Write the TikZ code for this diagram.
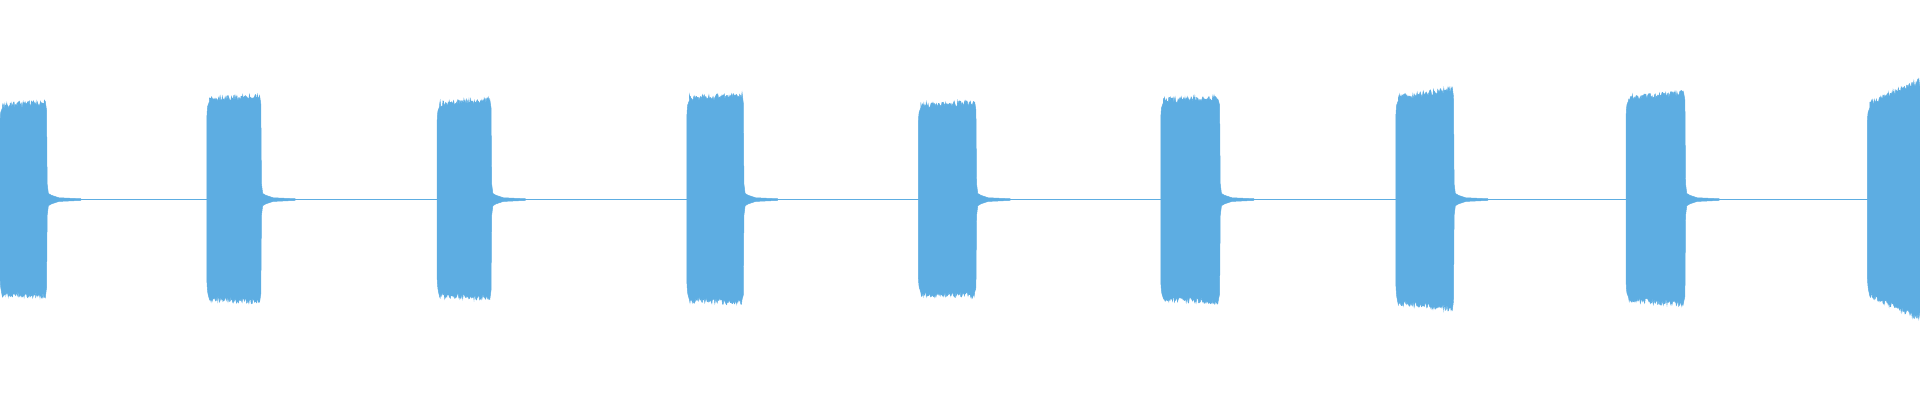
\documentclass[tikz,border=0pt]{standalone}
\definecolor{wave}{RGB}{93,173,226}
\begin{document}
\begin{tikzpicture}[x=1pt,y=-1pt,wv/.style={fill=wave,draw=wave,line width=0.4pt}]
\useasboundingbox (0,0) rectangle (1568,326.7);
\pgfmathsetseed{7}
\draw[wave,line width=0.9pt] (0,163) -- (1568,163);
\foreach \a/\b/\t/\u/\tt/\uu in {0/38/86/240/84/241, 169/213/81/244/79/246, 357/401/85/241/82/243, 561/607/80/245/78/247, 750/797/86/240/84/241, 948/996/82/244/80/246, 1140/1187/80/247/73/252, 1328/1376/80/245/76/248, 1525/1568/86/240/66/260}{
  \draw[wv] (\a,{\t+14}) .. controls (\a+0.5,{\t+5}) .. (\a+2,{\t+2}) -- plot[domain=\a+2:\b-1,samples=90] (\x,{\t+(\tt-\t)*(\x-\a)/(\b-\a)+2.5*rand})
    -- (\b,{\tt+6}) -- (\b+0.5,150) -- (\b+1.5,158) -- (\b+4,159.5) -- (\b+10,161.5) -- (\b+28,162.3) -- (\b+28,163.7) -- (\b+10,164.5) -- (\b+4,166.5) -- (\b+1.5,168) -- (\b+0.5,176) -- (\b,{\uu-6})
    -- plot[domain=\b-1:\a+2,samples=90] (\x,{\u+(\uu-\u)*(\x-\a)/(\b-\a)+2.5*rand}) .. controls (\a+0.5,{\u-5}) .. (\a,{\u-14}) -- cycle;
}
\end{tikzpicture}
\end{document}
